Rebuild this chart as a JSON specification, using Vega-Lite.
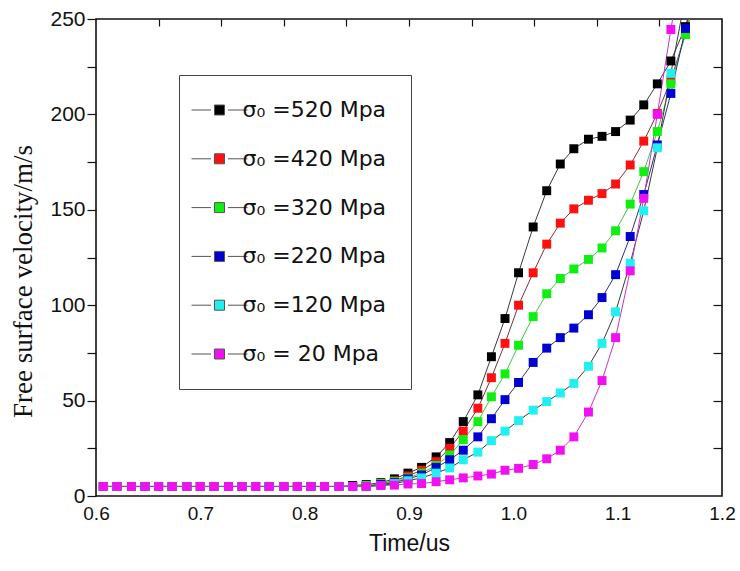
{
  "$schema": "https://vega.github.io/schema/vega-lite/v6.json",
  "autosize": {"type": "none"},
  "padding": {"left": 96, "top": 19, "right": 18, "bottom": 75},
  "width": 626,
  "height": 477,
  "background": "#ffffff",
  "config": {"view": {"stroke": "#111", "strokeWidth": 1.6}},
  "data": {"values": [
    {"s":"520","t":0.607,"v":5},{"s":"520","t":0.620,"v":5},{"s":"520","t":0.634,"v":5},{"s":"520","t":0.647,"v":5},{"s":"520","t":0.660,"v":5},{"s":"520","t":0.673,"v":5},{"s":"520","t":0.687,"v":5},{"s":"520","t":0.700,"v":5},{"s":"520","t":0.713,"v":5},{"s":"520","t":0.727,"v":5},{"s":"520","t":0.740,"v":5},{"s":"520","t":0.753,"v":5},{"s":"520","t":0.766,"v":5},{"s":"520","t":0.780,"v":5},{"s":"520","t":0.793,"v":5},{"s":"520","t":0.806,"v":5},{"s":"520","t":0.819,"v":5},{"s":"520","t":0.833,"v":5},{"s":"520","t":0.846,"v":5.5},{"s":"520","t":0.859,"v":6},{"s":"520","t":0.873,"v":7},{"s":"520","t":0.886,"v":9},{"s":"520","t":0.899,"v":12},{"s":"520","t":0.912,"v":15},{"s":"520","t":0.926,"v":20.5},{"s":"520","t":0.939,"v":28},{"s":"520","t":0.952,"v":39},{"s":"520","t":0.966,"v":53},{"s":"520","t":0.979,"v":73},{"s":"520","t":0.992,"v":93},{"s":"520","t":1.005,"v":117},{"s":"520","t":1.019,"v":141},{"s":"520","t":1.032,"v":160},{"s":"520","t":1.045,"v":174},{"s":"520","t":1.058,"v":182},{"s":"520","t":1.072,"v":187},{"s":"520","t":1.085,"v":188.5},{"s":"520","t":1.098,"v":191},{"s":"520","t":1.112,"v":197},{"s":"520","t":1.125,"v":205},{"s":"520","t":1.138,"v":216},{"s":"520","t":1.151,"v":228},{"s":"520","t":1.165,"v":246},{"s":"520","t":1.178,"v":265},
    {"s":"420","t":0.607,"v":5},{"s":"420","t":0.620,"v":5},{"s":"420","t":0.634,"v":5},{"s":"420","t":0.647,"v":5},{"s":"420","t":0.660,"v":5},{"s":"420","t":0.673,"v":5},{"s":"420","t":0.687,"v":5},{"s":"420","t":0.700,"v":5},{"s":"420","t":0.713,"v":5},{"s":"420","t":0.727,"v":5},{"s":"420","t":0.740,"v":5},{"s":"420","t":0.753,"v":5},{"s":"420","t":0.766,"v":5},{"s":"420","t":0.780,"v":5},{"s":"420","t":0.793,"v":5},{"s":"420","t":0.806,"v":5},{"s":"420","t":0.819,"v":5},{"s":"420","t":0.833,"v":5},{"s":"420","t":0.846,"v":5},{"s":"420","t":0.859,"v":5.5},{"s":"420","t":0.873,"v":6.5},{"s":"420","t":0.886,"v":8},{"s":"420","t":0.899,"v":10.5},{"s":"420","t":0.912,"v":13.5},{"s":"420","t":0.926,"v":18},{"s":"420","t":0.939,"v":25},{"s":"420","t":0.952,"v":34},{"s":"420","t":0.966,"v":46},{"s":"420","t":0.979,"v":62},{"s":"420","t":0.992,"v":80},{"s":"420","t":1.005,"v":100},{"s":"420","t":1.019,"v":117},{"s":"420","t":1.032,"v":132},{"s":"420","t":1.045,"v":143},{"s":"420","t":1.058,"v":150.5},{"s":"420","t":1.072,"v":155},{"s":"420","t":1.085,"v":158.5},{"s":"420","t":1.098,"v":163.5},{"s":"420","t":1.112,"v":173.5},{"s":"420","t":1.125,"v":186},{"s":"420","t":1.138,"v":200.5},{"s":"420","t":1.151,"v":218},{"s":"420","t":1.165,"v":242},{"s":"420","t":1.178,"v":268},
    {"s":"320","t":0.607,"v":5},{"s":"320","t":0.620,"v":5},{"s":"320","t":0.634,"v":5},{"s":"320","t":0.647,"v":5},{"s":"320","t":0.660,"v":5},{"s":"320","t":0.673,"v":5},{"s":"320","t":0.687,"v":5},{"s":"320","t":0.700,"v":5},{"s":"320","t":0.713,"v":5},{"s":"320","t":0.727,"v":5},{"s":"320","t":0.740,"v":5},{"s":"320","t":0.753,"v":5},{"s":"320","t":0.766,"v":5},{"s":"320","t":0.780,"v":5},{"s":"320","t":0.793,"v":5},{"s":"320","t":0.806,"v":5},{"s":"320","t":0.819,"v":5},{"s":"320","t":0.833,"v":5},{"s":"320","t":0.846,"v":5},{"s":"320","t":0.859,"v":5.5},{"s":"320","t":0.873,"v":6.5},{"s":"320","t":0.886,"v":7.5},{"s":"320","t":0.899,"v":9.5},{"s":"320","t":0.912,"v":12},{"s":"320","t":0.926,"v":16},{"s":"320","t":0.939,"v":21.5},{"s":"320","t":0.952,"v":29.5},{"s":"320","t":0.966,"v":39},{"s":"320","t":0.979,"v":52},{"s":"320","t":0.992,"v":64},{"s":"320","t":1.005,"v":79},{"s":"320","t":1.019,"v":94},{"s":"320","t":1.032,"v":106},{"s":"320","t":1.045,"v":114},{"s":"320","t":1.058,"v":119},{"s":"320","t":1.072,"v":124},{"s":"320","t":1.085,"v":130},{"s":"320","t":1.098,"v":139},{"s":"320","t":1.112,"v":153},{"s":"320","t":1.125,"v":170},{"s":"320","t":1.138,"v":191},{"s":"320","t":1.151,"v":216},{"s":"320","t":1.165,"v":242},{"s":"320","t":1.178,"v":270},
    {"s":"220","t":0.607,"v":5},{"s":"220","t":0.620,"v":5},{"s":"220","t":0.634,"v":5},{"s":"220","t":0.647,"v":5},{"s":"220","t":0.660,"v":5},{"s":"220","t":0.673,"v":5},{"s":"220","t":0.687,"v":5},{"s":"220","t":0.700,"v":5},{"s":"220","t":0.713,"v":5},{"s":"220","t":0.727,"v":5},{"s":"220","t":0.740,"v":5},{"s":"220","t":0.753,"v":5},{"s":"220","t":0.766,"v":5},{"s":"220","t":0.780,"v":5},{"s":"220","t":0.793,"v":5},{"s":"220","t":0.806,"v":5},{"s":"220","t":0.819,"v":5},{"s":"220","t":0.833,"v":5},{"s":"220","t":0.846,"v":5},{"s":"220","t":0.859,"v":5},{"s":"220","t":0.873,"v":6},{"s":"220","t":0.886,"v":7},{"s":"220","t":0.899,"v":9},{"s":"220","t":0.912,"v":11},{"s":"220","t":0.926,"v":15},{"s":"220","t":0.939,"v":19},{"s":"220","t":0.952,"v":24},{"s":"220","t":0.966,"v":31},{"s":"220","t":0.979,"v":40.5},{"s":"220","t":0.992,"v":50.5},{"s":"220","t":1.005,"v":59.5},{"s":"220","t":1.019,"v":70},{"s":"220","t":1.032,"v":77.5},{"s":"220","t":1.045,"v":83},{"s":"220","t":1.058,"v":88},{"s":"220","t":1.072,"v":95},{"s":"220","t":1.085,"v":104},{"s":"220","t":1.098,"v":116},{"s":"220","t":1.112,"v":136},{"s":"220","t":1.125,"v":158},{"s":"220","t":1.138,"v":184},{"s":"220","t":1.151,"v":211},{"s":"220","t":1.165,"v":245},{"s":"220","t":1.178,"v":280},
    {"s":"120","t":0.607,"v":5},{"s":"120","t":0.620,"v":5},{"s":"120","t":0.634,"v":5},{"s":"120","t":0.647,"v":5},{"s":"120","t":0.660,"v":5},{"s":"120","t":0.673,"v":5},{"s":"120","t":0.687,"v":5},{"s":"120","t":0.700,"v":5},{"s":"120","t":0.713,"v":5},{"s":"120","t":0.727,"v":5},{"s":"120","t":0.740,"v":5},{"s":"120","t":0.753,"v":5},{"s":"120","t":0.766,"v":5},{"s":"120","t":0.780,"v":5},{"s":"120","t":0.793,"v":5},{"s":"120","t":0.806,"v":5},{"s":"120","t":0.819,"v":5},{"s":"120","t":0.833,"v":5},{"s":"120","t":0.846,"v":5},{"s":"120","t":0.859,"v":5},{"s":"120","t":0.873,"v":5.5},{"s":"120","t":0.886,"v":6.5},{"s":"120","t":0.899,"v":8},{"s":"120","t":0.912,"v":9.5},{"s":"120","t":0.926,"v":12},{"s":"120","t":0.939,"v":14.7},{"s":"120","t":0.952,"v":19},{"s":"120","t":0.966,"v":23},{"s":"120","t":0.979,"v":29},{"s":"120","t":0.992,"v":34},{"s":"120","t":1.005,"v":39.5},{"s":"120","t":1.019,"v":45},{"s":"120","t":1.032,"v":49.5},{"s":"120","t":1.045,"v":54},{"s":"120","t":1.058,"v":59},{"s":"120","t":1.072,"v":68},{"s":"120","t":1.085,"v":80},{"s":"120","t":1.098,"v":96.5},{"s":"120","t":1.112,"v":122},{"s":"120","t":1.125,"v":149.5},{"s":"120","t":1.138,"v":182.5},{"s":"120","t":1.151,"v":221.5},{"s":"120","t":1.165,"v":262},
    {"s":"20","t":0.607,"v":5},{"s":"20","t":0.620,"v":5},{"s":"20","t":0.634,"v":5},{"s":"20","t":0.647,"v":5},{"s":"20","t":0.660,"v":5},{"s":"20","t":0.673,"v":5},{"s":"20","t":0.687,"v":5},{"s":"20","t":0.700,"v":5},{"s":"20","t":0.713,"v":5},{"s":"20","t":0.727,"v":5},{"s":"20","t":0.740,"v":5},{"s":"20","t":0.753,"v":5},{"s":"20","t":0.766,"v":5},{"s":"20","t":0.780,"v":5},{"s":"20","t":0.793,"v":5},{"s":"20","t":0.806,"v":5},{"s":"20","t":0.819,"v":5},{"s":"20","t":0.833,"v":5},{"s":"20","t":0.846,"v":5},{"s":"20","t":0.859,"v":5},{"s":"20","t":0.873,"v":5.5},{"s":"20","t":0.886,"v":5.7},{"s":"20","t":0.899,"v":6.3},{"s":"20","t":0.912,"v":6.5},{"s":"20","t":0.926,"v":7.5},{"s":"20","t":0.939,"v":8.5},{"s":"20","t":0.952,"v":9.5},{"s":"20","t":0.966,"v":10.5},{"s":"20","t":0.979,"v":11.5},{"s":"20","t":0.992,"v":13.5},{"s":"20","t":1.005,"v":14.5},{"s":"20","t":1.019,"v":16.5},{"s":"20","t":1.032,"v":19.5},{"s":"20","t":1.045,"v":24},{"s":"20","t":1.058,"v":31},{"s":"20","t":1.072,"v":44},{"s":"20","t":1.085,"v":60.5},{"s":"20","t":1.098,"v":83},{"s":"20","t":1.112,"v":118},{"s":"20","t":1.125,"v":156},{"s":"20","t":1.138,"v":200},{"s":"20","t":1.151,"v":244.5},{"s":"20","t":1.165,"v":290}
  ]},
  "layer": [
    {
      "mark": {"type": "line", "strokeWidth": 1, "clip": true},
      "encoding": {
        "x": {"field": "t", "type": "quantitative", "scale": {"domain": [0.6, 1.2], "nice": false, "zero": false},
          "axis": {"orient": "bottom", "values": [0.6, 0.7, 0.8, 0.9, 1.0, 1.1, 1.2], "format": ".1f", "ticks": false, "domain": false, "grid": false,
            "labelFont": "Liberation Sans", "labelFontSize": 19, "labelColor": "#111", "labelPadding": 8, "labelFlush": false, "labelOverlap": false,
            "title": "Time/us", "titleFont": "Liberation Sans", "titleFontSize": 23, "titleFontWeight": "normal", "titleColor": "#111", "titleY": 36}},
        "y": {"field": "v", "type": "quantitative", "scale": {"domain": [0, 250], "nice": false},
          "axis": {"orient": "left", "values": [0, 25, 50, 75, 100, 125, 150, 175, 200, 225, 250], "labelExpr": "datum.value % 50 === 0 ? datum.label : ''",
            "tickSize": 9, "tickColor": "#111", "tickWidth": 1.2, "domain": false, "grid": false,
            "labelFont": "Liberation Sans", "labelFontSize": 21, "labelColor": "#111", "labelPadding": 2, "labelFlush": false, "labelOverlap": false,
            "title": "Free surface velocity/m/s", "titleFont": "Liberation Serif", "titleFontSize": 27, "titleFontWeight": "normal", "titleColor": "#111", "titleX": -59, "titleY": 262}},
        "stroke": {"field": "s", "type": "nominal",
          "scale": {"domain": ["20", "120", "220", "320", "420", "520"], "range": ["#cc33cc", "#3a3a3a", "#30307a", "#40c840", "#7a3535", "#3a3a3a"]},
          "legend": null}
      }
    },
    {
      "mark": {"type": "square", "size": 80, "opacity": 1, "clip": true},
      "encoding": {
        "x": {"field": "t", "type": "quantitative", "scale": {"domain": [0.6, 1.2], "nice": false, "zero": false}, "axis": null},
        "y": {"field": "v", "type": "quantitative", "scale": {"domain": [0, 250], "nice": false}, "axis": null},
        "color": {"field": "s", "type": "nominal",
          "scale": {"domain": ["520", "420", "320", "220", "120", "20"], "range": ["#000000", "#ff1010", "#10f010", "#0000d0", "#20f0f0", "#f010f0"]},
          "legend": {"orient": "none", "legendX": 83, "legendY": 56, "title": null, "direction": "vertical",
            "symbolType": "M-5.6,0H-1.7M-1,-1H1V1H-1ZM1.7,0H5.6", "symbolSize": 100, "symbolOffset": 5.5,
            "symbolStrokeColor": "#555", "symbolStrokeWidth": 1,
            "labelOffset": 12, "labelFont": "DejaVu Sans", "labelFontSize": 22, "labelColor": "#111", "labelLimit": 300,
            "labelExpr": "datum.label == '20' ? 'σ₀ = 20 Mpa' : 'σ₀ =' + datum.label + ' Mpa'",
            "rowPadding": 26.8, "padding": 24, "strokeColor": "#444", "fillColor": "#ffffff",
            "encode": {"symbols": {"update": {"stroke": {"value": "#555"}, "strokeWidth": {"value": 1}}}}}}
      }
    },
    {
      "mark": {"type": "point", "opacity": 0},
      "encoding": {
        "x": {"field": "t", "type": "quantitative", "scale": {"domain": [0.6, 1.2], "nice": false, "zero": false},
          "axis": {"orient": "top", "values": [0.66, 0.72, 0.78, 0.84, 0.9, 0.96, 1.02, 1.08, 1.14], "labels": false, "domain": false, "grid": false, "tickSize": -7, "tickColor": "#111", "tickWidth": 1.2, "title": null}},
        "y": {"field": "v", "type": "quantitative", "scale": {"domain": [0, 250], "nice": false},
          "axis": {"orient": "right", "values": [25, 50, 75, 100, 125, 150, 175, 200, 225], "labels": false, "domain": false, "grid": false, "tickSize": -9, "tickColor": "#111", "tickWidth": 1.2, "title": null}}
      }
    }
  ],
  "resolve": {"axis": {"x": "independent", "y": "independent"}}
}
